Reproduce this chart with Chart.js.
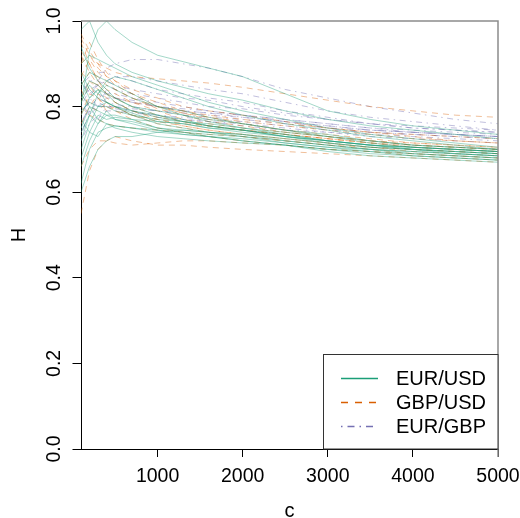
<!DOCTYPE html>
<html>
<head>
<meta charset="utf-8">
<script src="https://cdn.jsdelivr.net/npm/chart.js@4"></script>
<style>
  body { margin: 0; background: #fff; }
  #chart { display: block; }
</style>
</head>
<body>
<canvas id="chart" width="520" height="518"></canvas>
<script>
// window size c
const cValues = [100, 200, 300, 400, 500, 700, 1000, 1300, 1600, 2000, 2500, 3000, 3500, 4000, 4500, 5000];

const eurUsd = [
  [0.80, 0.93, 0.98, 1.00, 0.98, 0.95, 0.92, 0.905, 0.89, 0.87, 0.83, 0.79, 0.77, 0.755, 0.745, 0.735],
  [0.98, 1.00, 0.95, 0.92, 0.90, 0.88, 0.86, 0.845, 0.83, 0.815, 0.79, 0.77, 0.755, 0.745, 0.735, 0.725],
  [0.60, 0.66, 0.70, 0.72, 0.73, 0.73, 0.74, 0.745, 0.74, 0.735, 0.72, 0.71, 0.70, 0.695, 0.69, 0.685],
  [0.62, 0.70, 0.74, 0.75, 0.755, 0.75, 0.74, 0.735, 0.73, 0.72, 0.71, 0.70, 0.695, 0.69, 0.685, 0.68],
  [0.78, 0.82, 0.84, 0.83, 0.82, 0.80, 0.78, 0.765, 0.755, 0.745, 0.73, 0.715, 0.705, 0.70, 0.695, 0.69],
  [0.82, 0.86, 0.85, 0.83, 0.81, 0.79, 0.775, 0.765, 0.755, 0.745, 0.735, 0.72, 0.71, 0.70, 0.695, 0.69],
  [0.75, 0.80, 0.79, 0.78, 0.77, 0.76, 0.745, 0.735, 0.73, 0.725, 0.715, 0.705, 0.70, 0.695, 0.69, 0.685],
  [0.85, 0.88, 0.87, 0.86, 0.85, 0.83, 0.80, 0.78, 0.765, 0.75, 0.735, 0.72, 0.71, 0.705, 0.70, 0.695],
  [0.70, 0.76, 0.80, 0.81, 0.80, 0.78, 0.76, 0.75, 0.74, 0.73, 0.715, 0.705, 0.695, 0.685, 0.68, 0.675],
  [0.79, 0.81, 0.80, 0.80, 0.79, 0.78, 0.77, 0.765, 0.76, 0.75, 0.74, 0.73, 0.715, 0.705, 0.70, 0.695],
  [0.66, 0.72, 0.76, 0.78, 0.78, 0.77, 0.75, 0.74, 0.73, 0.72, 0.71, 0.695, 0.685, 0.68, 0.675, 0.67],
  [0.88, 0.84, 0.82, 0.81, 0.80, 0.79, 0.78, 0.77, 0.755, 0.745, 0.73, 0.72, 0.71, 0.70, 0.695, 0.69],
  [0.74, 0.78, 0.83, 0.86, 0.87, 0.86, 0.84, 0.82, 0.80, 0.78, 0.76, 0.745, 0.73, 0.72, 0.71, 0.70],
  [0.83, 0.80, 0.77, 0.76, 0.755, 0.75, 0.745, 0.74, 0.735, 0.73, 0.72, 0.71, 0.70, 0.69, 0.685, 0.68],
  [0.90, 0.92, 0.91, 0.90, 0.89, 0.87, 0.85, 0.83, 0.81, 0.79, 0.77, 0.75, 0.735, 0.725, 0.715, 0.705],
  [0.72, 0.78, 0.76, 0.79, 0.77, 0.765, 0.75, 0.745, 0.74, 0.735, 0.725, 0.715, 0.705, 0.70, 0.69, 0.685],
  [0.86, 0.82, 0.84, 0.81, 0.80, 0.785, 0.765, 0.76, 0.75, 0.74, 0.73, 0.72, 0.71, 0.705, 0.70, 0.695],
  [0.68, 0.74, 0.73, 0.76, 0.75, 0.74, 0.73, 0.725, 0.72, 0.715, 0.71, 0.70, 0.69, 0.685, 0.68, 0.675],
  [0.81, 0.85, 0.83, 0.85, 0.84, 0.82, 0.80, 0.79, 0.775, 0.76, 0.745, 0.73, 0.72, 0.71, 0.705, 0.70],
  [0.77, 0.74, 0.78, 0.77, 0.775, 0.77, 0.765, 0.76, 0.75, 0.745, 0.73, 0.72, 0.71, 0.705, 0.70, 0.695],
  [0.94, 0.89, 0.86, 0.84, 0.82, 0.80, 0.79, 0.78, 0.77, 0.76, 0.745, 0.735, 0.72, 0.71, 0.705, 0.70],
];

const gbpUsd = [
  [0.96, 0.92, 0.89, 0.87, 0.86, 0.84, 0.82, 0.80, 0.79, 0.78, 0.765, 0.75, 0.74, 0.73, 0.72, 0.715],
  [0.93, 0.90, 0.86, 0.84, 0.83, 0.81, 0.79, 0.77, 0.76, 0.75, 0.74, 0.73, 0.72, 0.71, 0.705, 0.70],
  [0.55, 0.65, 0.70, 0.72, 0.73, 0.72, 0.71, 0.71, 0.705, 0.70, 0.695, 0.69, 0.685, 0.68, 0.675, 0.67],
  [0.88, 0.86, 0.84, 0.82, 0.81, 0.79, 0.77, 0.755, 0.745, 0.735, 0.725, 0.715, 0.705, 0.70, 0.695, 0.69],
  [0.90, 0.92, 0.90, 0.89, 0.88, 0.87, 0.865, 0.86, 0.855, 0.845, 0.83, 0.815, 0.80, 0.79, 0.78, 0.775],
  [0.82, 0.86, 0.85, 0.83, 0.82, 0.80, 0.78, 0.765, 0.755, 0.745, 0.735, 0.725, 0.715, 0.705, 0.70, 0.695],
  [0.78, 0.83, 0.82, 0.80, 0.79, 0.77, 0.75, 0.74, 0.73, 0.72, 0.71, 0.70, 0.695, 0.69, 0.685, 0.68],
  [0.66, 0.70, 0.72, 0.72, 0.715, 0.71, 0.715, 0.72, 0.72, 0.715, 0.71, 0.70, 0.695, 0.685, 0.68, 0.675],
  [0.92, 0.88, 0.85, 0.83, 0.82, 0.81, 0.80, 0.79, 0.78, 0.77, 0.76, 0.75, 0.74, 0.735, 0.73, 0.725],
  [0.85, 0.88, 0.87, 0.85, 0.84, 0.82, 0.80, 0.785, 0.77, 0.76, 0.745, 0.73, 0.72, 0.715, 0.71, 0.705],
  [0.80, 0.78, 0.77, 0.76, 0.755, 0.75, 0.745, 0.74, 0.735, 0.73, 0.72, 0.71, 0.705, 0.70, 0.695, 0.69],
  [0.95, 0.90, 0.86, 0.83, 0.81, 0.79, 0.775, 0.765, 0.755, 0.745, 0.735, 0.725, 0.715, 0.71, 0.705, 0.70],
  [0.90, 0.95, 0.91, 0.88, 0.86, 0.83, 0.81, 0.79, 0.775, 0.76, 0.745, 0.735, 0.725, 0.715, 0.71, 0.705],
  [0.84, 0.80, 0.83, 0.81, 0.80, 0.78, 0.76, 0.75, 0.74, 0.73, 0.72, 0.71, 0.70, 0.69, 0.685, 0.68],
  [0.87, 0.91, 0.88, 0.86, 0.84, 0.82, 0.795, 0.78, 0.765, 0.755, 0.74, 0.73, 0.72, 0.71, 0.705, 0.70],
  [0.76, 0.80, 0.79, 0.81, 0.79, 0.78, 0.765, 0.755, 0.745, 0.735, 0.725, 0.715, 0.705, 0.695, 0.69, 0.685],
  [0.97, 0.93, 0.90, 0.87, 0.85, 0.83, 0.80, 0.785, 0.775, 0.765, 0.755, 0.745, 0.735, 0.725, 0.72, 0.715],
  [0.81, 0.85, 0.82, 0.79, 0.80, 0.78, 0.77, 0.76, 0.755, 0.745, 0.735, 0.725, 0.715, 0.705, 0.70, 0.695],
];

const eurGbp = [
  [0.78, 0.82, 0.86, 0.89, 0.90, 0.91, 0.91, 0.90, 0.89, 0.87, 0.84, 0.82, 0.80, 0.785, 0.77, 0.76],
  [0.80, 0.84, 0.85, 0.86, 0.87, 0.87, 0.86, 0.85, 0.84, 0.83, 0.81, 0.79, 0.775, 0.765, 0.755, 0.745],
  [0.74, 0.78, 0.80, 0.82, 0.82, 0.81, 0.80, 0.79, 0.785, 0.78, 0.77, 0.76, 0.75, 0.745, 0.74, 0.735],
  [0.82, 0.84, 0.83, 0.82, 0.82, 0.81, 0.80, 0.795, 0.79, 0.78, 0.77, 0.76, 0.75, 0.74, 0.735, 0.73],
  [0.76, 0.80, 0.82, 0.83, 0.83, 0.82, 0.81, 0.80, 0.79, 0.78, 0.765, 0.75, 0.74, 0.735, 0.73, 0.725],
  [0.85, 0.87, 0.88, 0.88, 0.87, 0.86, 0.84, 0.83, 0.82, 0.81, 0.79, 0.775, 0.76, 0.75, 0.745, 0.74],
  [0.72, 0.76, 0.78, 0.79, 0.79, 0.785, 0.78, 0.775, 0.77, 0.765, 0.755, 0.745, 0.74, 0.735, 0.73, 0.725],
  [0.79, 0.81, 0.81, 0.80, 0.80, 0.795, 0.79, 0.785, 0.78, 0.775, 0.765, 0.755, 0.745, 0.74, 0.735, 0.73],
  [0.83, 0.86, 0.86, 0.85, 0.84, 0.83, 0.82, 0.81, 0.80, 0.795, 0.78, 0.77, 0.76, 0.75, 0.745, 0.74],
  [0.77, 0.79, 0.80, 0.80, 0.795, 0.79, 0.78, 0.77, 0.765, 0.76, 0.75, 0.74, 0.735, 0.73, 0.725, 0.72],
  [0.75, 0.82, 0.80, 0.84, 0.82, 0.815, 0.80, 0.79, 0.785, 0.775, 0.765, 0.755, 0.745, 0.74, 0.735, 0.73],
  [0.81, 0.78, 0.82, 0.81, 0.805, 0.80, 0.79, 0.78, 0.775, 0.77, 0.76, 0.75, 0.745, 0.74, 0.735, 0.73],
  [0.86, 0.83, 0.85, 0.86, 0.85, 0.84, 0.83, 0.82, 0.815, 0.80, 0.785, 0.77, 0.76, 0.755, 0.75, 0.745],
  [0.73, 0.79, 0.77, 0.80, 0.80, 0.79, 0.775, 0.77, 0.765, 0.755, 0.745, 0.74, 0.73, 0.725, 0.72, 0.715],
];

const seriesNames = ["EUR/USD", "GBP/USD", "EUR/GBP"];
const seriesColors = ["#1b9e77", "#d95f02", "#7570b3"];
const lineAlpha = [0.4, 0.4, 0.45];
const lineDashes = [[], [6, 5], [1.5, 4.5, 6, 4.5]];
const legendDashes = [[], [7, 7], [1.5, 5, 7, 5]];
const xTicks = [1000, 2000, 3000, 4000, 5000];
const yTicks = [0, 0.2, 0.4, 0.6, 0.8, 1.0];

const FONT = "'Liberation Sans', Arial, Helvetica, sans-serif";

function withAlpha(hex, a) {
  const n = parseInt(hex.slice(1), 16);
  return `rgba(${(n >> 16) & 255}, ${(n >> 8) & 255}, ${n & 255}, ${a})`;
}

const datasets = [];
[eurUsd, gbpUsd, eurGbp].forEach((group, s) => {
  group.forEach((values) => {
    datasets.push({
      label: seriesNames[s],
      data: values.map((v, i) => ({ x: cValues[i], y: v })),
      borderColor: withAlpha(seriesColors[s], lineAlpha[s]),
      borderWidth: 1,
      borderDash: lineDashes[s],
      pointRadius: 0,
      tension: 0,
      fill: false,
    });
  });
});

// grey top/right frame and the legend box in the lower right
const framePlugin = {
  id: "frame",
  afterDraw(chart) {
    const { ctx, chartArea } = chart;
    ctx.save();
    ctx.strokeStyle = "#8c8c8c";
    ctx.lineWidth = 1.5;
    ctx.beginPath();
    ctx.moveTo(chartArea.left, chartArea.top);
    ctx.lineTo(chartArea.right, chartArea.top);
    ctx.lineTo(chartArea.right, chartArea.bottom + 8);
    ctx.stroke();

    const boxLeft = 323.5;
    const boxTop = 354.5;
    ctx.fillStyle = "#fff";
    ctx.fillRect(boxLeft, boxTop, chartArea.right - boxLeft, chartArea.bottom - boxTop);
    ctx.strokeStyle = "#333";
    ctx.lineWidth = 1;
    ctx.strokeRect(boxLeft, boxTop, chartArea.right - boxLeft, chartArea.bottom - boxTop);

    ctx.font = "20px " + FONT;
    ctx.textBaseline = "middle";
    ctx.textAlign = "left";
    seriesNames.forEach((name, i) => {
      const y = 378.5 + i * 24;
      ctx.strokeStyle = seriesColors[i];
      ctx.lineWidth = 1.6;
      ctx.setLineDash(legendDashes[i]);
      ctx.beginPath();
      ctx.moveTo(341, y);
      ctx.lineTo(378, y);
      ctx.stroke();
      ctx.setLineDash([]);
      ctx.fillStyle = "#000";
      ctx.fillText(name, 396, y + 1);
    });
    ctx.restore();
  },
};

new Chart(document.getElementById("chart"), {
  type: "line",
  data: { datasets },
  plugins: [framePlugin],
  options: {
    responsive: false,
    animation: false,
    layout: { padding: { left: 0, top: 21, right: 0, bottom: 0 } },
    plugins: {
      legend: { display: false },
      tooltip: { enabled: false },
    },
    scales: {
      x: {
        type: "linear",
        min: 100,
        max: 5000,
        afterBuildTicks: (scale) => {
          scale.ticks = xTicks.map((v) => ({ value: v }));
        },
        afterFit: (scale) => {
          scale.height = 69;
          scale.paddingLeft = 0;
          scale.paddingRight = 22;
        },
        grid: { drawOnChartArea: false, drawTicks: true, tickLength: 8, tickColor: "#000" },
        border: { display: true, color: "#000", width: 1 },
        ticks: {
          color: "#000",
          font: { family: FONT, size: 19.5 },
          padding: 8,
          maxRotation: 0,
          callback: (v) => String(v),
        },
        title: {
          display: true,
          text: "c",
          color: "#000",
          font: { family: FONT, size: 20 },
          padding: { top: 0, bottom: -5 },
        },
      },
      y: {
        min: 0,
        max: 1,
        afterBuildTicks: (scale) => {
          scale.ticks = yTicks.map((v) => ({ value: v }));
        },
        afterFit: (scale) => {
          scale.width = 81;
        },
        grid: { drawOnChartArea: false, drawTicks: true, tickLength: 8.5, tickColor: "#000" },
        border: { display: true, color: "#000", width: 1 },
        ticks: {
          color: "#000",
          font: { family: FONT, size: 19.5 },
          padding: 4,
          minRotation: 90,
          maxRotation: 90,
          crossAlign: "center",
          callback: (v) => Number(v).toFixed(1),
        },
        title: {
          display: true,
          text: "H",
          color: "#000",
          font: { family: FONT, size: 20 },
          padding: { top: 7, bottom: 0 },
        },
      },
    },
  },
});
</script>
</body>
</html>
